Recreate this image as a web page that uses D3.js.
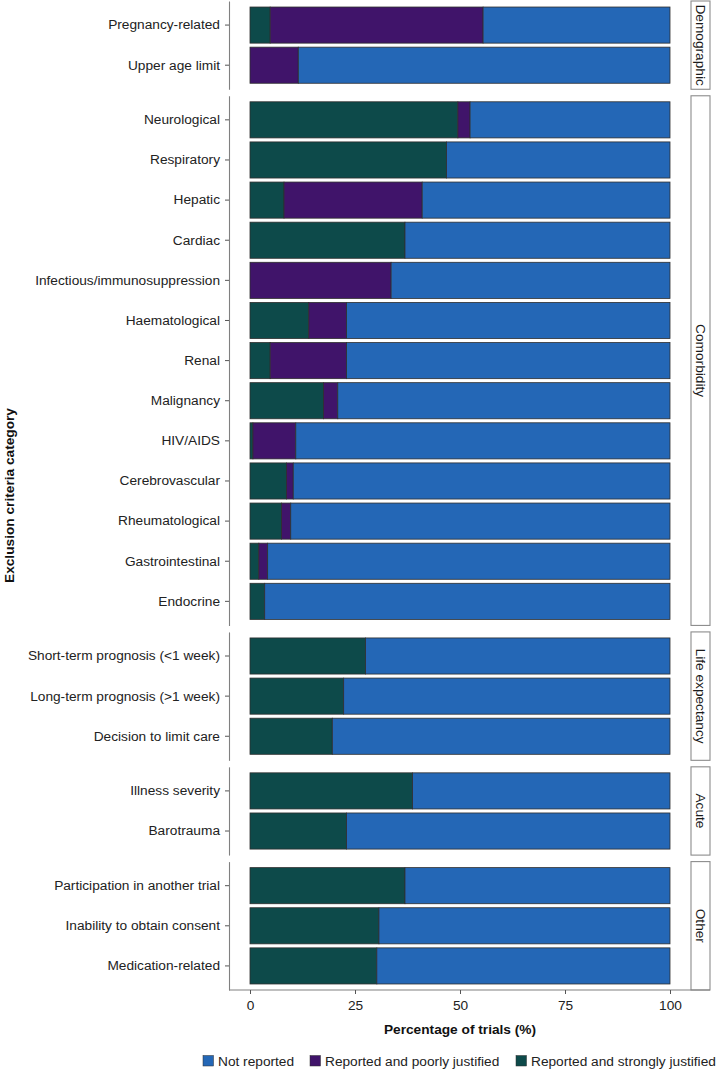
<!DOCTYPE html>
<html>
<head>
<meta charset="utf-8">
<script src="https://cdn.jsdelivr.net/npm/d3@7"></script>
<style>
  body { margin: 0; background: #fff; }
  svg text { font-family: "Liberation Sans", Arial, sans-serif; }
</style>
</head>
<body>
<div id="chart"></div>
<script>
// panel (facet) groups, top to bottom
const groups = ["Demographic", "Comorbidity", "Life expectancy", "Acute", "Other"];

const categories = [
  "Pregnancy-related", "Upper age limit",
  "Neurological", "Respiratory", "Hepatic", "Cardiac", "Infectious/immunosuppression",
  "Haematological", "Renal", "Malignancy", "HIV/AIDS", "Cerebrovascular",
  "Rheumatological", "Gastrointestinal", "Endocrine",
  "Short-term prognosis (<1 week)", "Long-term prognosis (>1 week)", "Decision to limit care",
  "Illness severity", "Barotrauma",
  "Participation in another trial", "Inability to obtain consent", "Medication-related"
];
const categoryGroup = [
  "Demographic", "Demographic",
  "Comorbidity", "Comorbidity", "Comorbidity", "Comorbidity", "Comorbidity",
  "Comorbidity", "Comorbidity", "Comorbidity", "Comorbidity", "Comorbidity",
  "Comorbidity", "Comorbidity", "Comorbidity",
  "Life expectancy", "Life expectancy", "Life expectancy",
  "Acute", "Acute",
  "Other", "Other", "Other"
];
// percentages of trials
const stronglyJustified = [4.8, 0, 49.5, 46.8, 8.1, 36.9, 0, 14.0, 4.8, 17.5, 0.7, 8.7, 7.5, 2.1, 3.5, 27.5, 22.3, 19.6, 38.7, 23.0, 36.9, 30.7, 30.2];
const poorlyJustified   = [50.7, 11.5, 2.9, 0, 32.9, 0, 33.6, 9.0, 18.2, 3.4, 10.2, 1.6, 2.2, 2.1, 0, 0, 0, 0, 0, 0, 0, 0, 0];
const notReported       = [44.5, 88.5, 47.6, 53.2, 59.0, 63.1, 66.4, 77.0, 77.0, 79.1, 89.1, 89.7, 90.3, 95.8, 96.5, 72.5, 77.7, 80.4, 61.3, 77.0, 63.1, 69.3, 69.8];

const seriesKeys = ["strong", "poor", "none"];
const seriesLabels = ["Reported and strongly justified", "Reported and poorly justified", "Not reported"];
const seriesColors = ["#0d4a4a", "#40146a", "#2467b6"];
const legendOrder = ["none", "poor", "strong"];

const xTicks = [0, 25, 50, 75, 100];

const rows = categories.map((c, i) => ({
  category: c, group: categoryGroup[i],
  strong: stronglyJustified[i], poor: poorlyJustified[i], none: notReported[i]
}));

const width = 718, height = 1070;
const fs = 13.7;
const svg = d3.select("#chart").append("svg")
  .attr("width", width).attr("height", height);

const panelLeft = 229, panelRight = 691;
const stripLeft = 691, stripRight = 710;
const panelTop = 1, panelBottom = 990, gap = 6.5;

const x = d3.scaleLinear().domain([0, 100]).range([250, 670]);
const color = d3.scaleOrdinal().domain(seriesKeys).range(seriesColors);
const stack = d3.stack().keys(seriesKeys);

// free panel heights: n categories + 0.2 expansion units each
const counts = groups.map(g => rows.filter(r => r.group === g).length);
const totalUnits = d3.sum(counts, n => n + 0.2);
const unit = (panelBottom - panelTop - gap * (groups.length - 1)) / totalUnits;

let y0 = panelTop;
groups.forEach((g, gi) => {
  const data = rows.filter(r => r.group === g);
  const h = unit * (data.length + 0.2);
  const y = d3.scaleBand().domain(data.map(d => d.category))
    .range([y0, y0 + h]).paddingInner(0.1).paddingOuter(0.15);

  const panel = svg.append("g");

  // stacked bars
  stack(data).forEach(layer => {
    panel.append("g").selectAll("rect").data(layer.filter(d => d[1] - d[0] > 0)).join("rect")
      .attr("x", d => x(d[0]))
      .attr("y", d => y(d.data.category))
      .attr("width", d => x(d[1]) - x(d[0]))
      .attr("height", y.bandwidth())
      .attr("fill", color(layer.key))
      .attr("stroke", "#2e2e2e")
      .attr("stroke-width", 0.8);
  });

  // left axis
  const yAxis = panel.append("g")
    .attr("transform", `translate(${panelLeft},0)`)
    .call(d3.axisLeft(y).tickSize(4).tickPadding(5).tickSizeOuter(0));
  yAxis.select(".domain").attr("stroke", "#808080").attr("stroke-width", 1.1);
  yAxis.selectAll(".tick line").attr("stroke", "#555");
  yAxis.selectAll(".tick text").attr("font-size", fs).attr("fill", "#222");

  // facet strip
  panel.append("rect")
    .attr("x", stripLeft).attr("y", y0)
    .attr("width", stripRight - stripLeft).attr("height", h)
    .attr("fill", "#fff").attr("stroke", "#8c8c8c").attr("stroke-width", 1.1);
  panel.append("text")
    .attr("transform", `translate(${(stripLeft + stripRight) / 2},${y0 + h / 2}) rotate(90)`)
    .attr("text-anchor", "middle").attr("dy", "0.35em")
    .attr("font-size", fs).attr("fill", "#1a1a1a")
    .text(g);

  y0 += h + gap;
});

// bottom axis
const xAxis = svg.append("g")
  .attr("transform", `translate(0,${panelBottom})`)
  .call(d3.axisBottom(x).tickValues(xTicks).tickSize(4).tickPadding(6).tickSizeOuter(0));
xAxis.select(".domain").attr("d", `M${panelLeft},0H${stripRight}`)
  .attr("stroke", "#808080").attr("stroke-width", 1.1);
xAxis.selectAll(".tick line").attr("stroke", "#555");
xAxis.selectAll(".tick text").attr("font-size", fs).attr("fill", "#222");

// axis titles
svg.append("text")
  .attr("x", (panelLeft + panelRight) / 2).attr("y", 1034)
  .attr("text-anchor", "middle").attr("font-size", fs).attr("font-weight", "bold")
  .attr("fill", "#111").text("Percentage of trials (%)");
svg.append("text")
  .attr("transform", `translate(14,${(panelTop + panelBottom) / 2}) rotate(-90)`)
  .attr("text-anchor", "middle").attr("font-size", fs).attr("font-weight", "bold")
  .attr("fill", "#111").text("Exclusion criteria category");

// legend
const legendX = [203, 310, 516];
const legend = svg.append("g");
legendOrder.forEach((k, i) => {
  const idx = seriesKeys.indexOf(k);
  legend.append("rect")
    .attr("x", legendX[i]).attr("y", 1055.5)
    .attr("width", 10.5).attr("height", 10.5)
    .attr("fill", color(k)).attr("stroke", "#2e2e2e").attr("stroke-width", 0.5);
  legend.append("text")
    .attr("x", legendX[i] + 15).attr("y", 1066)
    .attr("font-size", fs).attr("fill", "#222")
    .text(seriesLabels[idx]);
});
</script>
</body>
</html>
